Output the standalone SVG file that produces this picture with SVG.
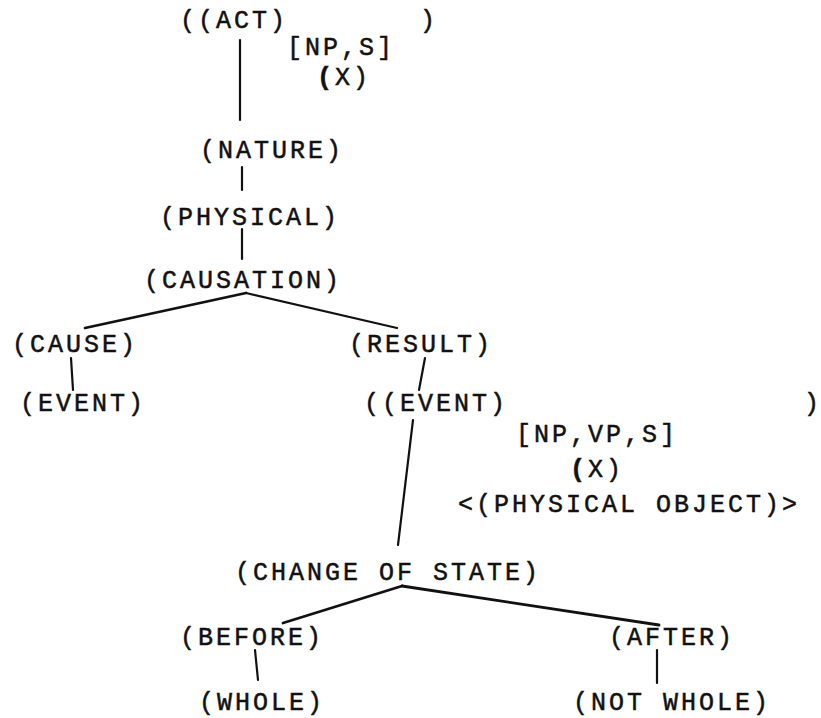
<svg xmlns="http://www.w3.org/2000/svg" width="821" height="718" viewBox="0 0 821 718">
<style>
text{font-family:"Liberation Mono","DejaVu Sans Mono",monospace;font-size:25px;letter-spacing:3px;fill:#111;stroke:#111;stroke-width:0.5}
text.s{letter-spacing:0}
.b{font-weight:bold}
line{stroke:#111;stroke-width:2.2;stroke-linecap:round}
.t{stroke-width:2.8}
</style>
<rect width="821" height="718" fill="#fff"/>
<g id="connectors">
<line x1="240" y1="40" x2="240" y2="120"/>
<line x1="242" y1="167" x2="242" y2="190"/>
<line x1="242" y1="229" x2="242" y2="259"/>
<line class="t" x1="246" y1="293" x2="85" y2="328"/>
<line x1="246" y1="293" x2="397" y2="328"/>
<line x1="71" y1="358" x2="73" y2="390"/>
<line x1="425" y1="358" x2="419" y2="390"/>
<line x1="413" y1="420" x2="398" y2="545"/>
<line class="t" x1="402" y1="586" x2="283" y2="623"/>
<line class="t" x1="402" y1="586" x2="659" y2="625"/>
<line x1="255" y1="650" x2="258" y2="680"/>
<line x1="657" y1="650" x2="657" y2="683"/>
</g>
<g id="act"><text x="180" y="28">((ACT)</text><text class="s" x="420" y="28">)</text></g>
<g id="act-label"><text x="287" y="55">[NP,S]</text><text x="317" y="85"><tspan class="b">(</tspan>X)</text></g>
<g id="nature"><text x="200" y="158">(NATURE)</text></g>
<g id="physical"><text x="160" y="225">(PHYSICAL)</text></g>
<g id="causation"><text x="144" y="288">(CAUSATION)</text></g>
<g id="cause"><text x="12" y="352">(CAUSE)</text></g>
<g id="result"><text x="349" y="352">(RESULT)</text></g>
<g id="event1"><text x="20" y="411">(EVENT)</text></g>
<g id="event2"><text x="364" y="411">((EVENT)</text><text class="s" x="804" y="411">)</text></g>
<g id="event2-label"><text x="516" y="442">[NP,VP,S]</text><text x="570" y="477"><tspan class="b">(</tspan>X)</text><text x="458" y="512">&lt;(PHYSICAL OBJECT)&gt;</text></g>
<g id="change"><text x="235" y="580">(CHANGE OF STATE)</text></g>
<g id="before"><text x="180" y="645">(BEFORE)</text></g>
<g id="after"><text x="609" y="645">(AFTER)</text></g>
<g id="whole"><text x="199" y="710">(WHOLE)</text></g>
<g id="notwhole"><text x="573" y="710">(NOT WHOLE)</text></g>
</svg>
